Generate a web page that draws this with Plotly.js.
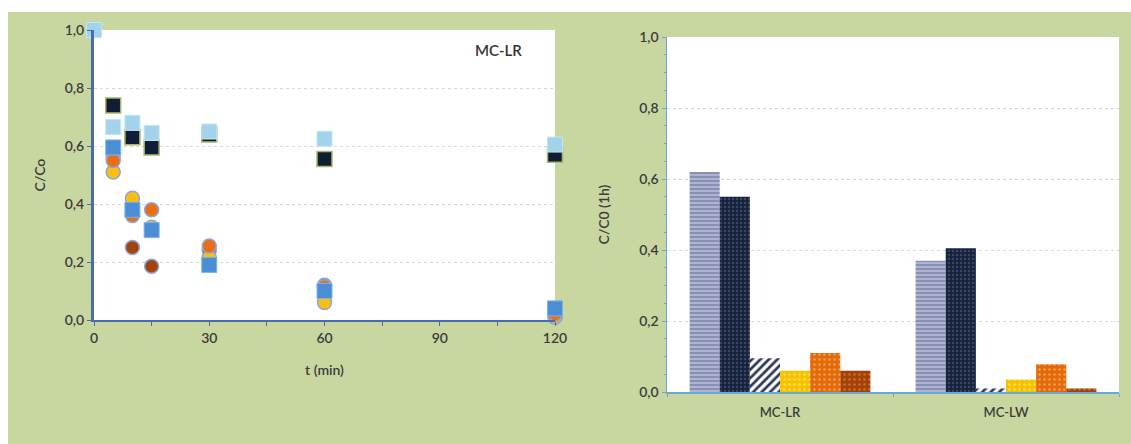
<!DOCTYPE html>
<html><head><meta charset="utf-8">
<script src="https://cdn.plot.ly/plotly-3.0.1.min.js"></script>
<style>html,body{margin:0;padding:0;background:#fff}#c{width:1131px;height:444px}</style>
</head><body><div id="c"></div>
<script>
// Left panel: C/Co vs time
const tLight = [0, 5, 10, 15, 30, 60, 120];
const vLight = [1.0, 0.665, 0.68, 0.645, 0.65, 0.625, 0.605];
const tNavy = [5, 10, 15, 30, 60, 120];
const vNavy = [0.74, 0.63, 0.595, 0.64, 0.555, 0.57];
const tBlue = [5, 10, 15, 30, 60, 120];
const vBlue = [0.595, 0.38, 0.31, 0.19, 0.10, 0.04];
const tOrange = [5, 10, 15, 30, 60, 120];
const vOrange = [0.55, 0.36, 0.38, 0.255, 0.115, 0.02];
const tYellow = [5, 10, 15, 30, 60, 120];
const vYellow = [0.51, 0.42, 0.32, 0.215, 0.06, 0.01];
const tBrown = [5, 10, 15, 30, 60, 120];
const vBrown = [0.56, 0.25, 0.185, 0.24, 0.12, 0.01];

// Right panel: C/C0 after 1 h
const cats = ['MC-LR', 'MC-LW'];
const bar1 = [0.62, 0.37];
const bar2 = [0.55, 0.405];
const bar3 = [0.095, 0.01];
const bar4 = [0.06, 0.035];
const bar5 = [0.11, 0.078];
const bar6 = [0.06, 0.01];

const xTicks = [0, 30, 60, 90, 120];
const yTicks = [0, 0.2, 0.4, 0.6, 0.8, 1.0];

const green = '#c8d6a0';
const circLine = {color: '#8ea6d6', width: 1.5};
const sc = (x, y, sym, col, line, size) => ({
  type: 'scatter', mode: 'markers', x: x, y: y, xaxis: 'x', yaxis: 'y',
  cliponaxis: false, showlegend: false, hoverinfo: 'x+y',
  marker: {symbol: sym, color: col, size: size, line: line}
});

const traces = [
  sc(tBrown, vBrown, 'circle', '#a3440c', circLine, 14),
  sc(tYellow, vYellow, 'circle', '#fbbf10', circLine, 14),
  sc(tOrange, vOrange, 'circle', '#ea6f14', circLine, 14),
  sc(tBlue, vBlue, 'square', '#4a8ed6', {color: '#7fb0e6', width: 1}, 15),
  sc(tNavy, vNavy, 'square', '#0f1d36', {color: '#a8b86a', width: 1.5}, 15),
  sc(tLight, vLight, 'square', '#a3d3ea', {color: '#c3e4f2', width: 1}, 15)
];

const bar = (y, bg, fg, shape, size, sol) => ({
  type: 'bar', x: cats, y: y, xaxis: 'x2', yaxis: 'y2', showlegend: false,
  marker: {color: bg, line: {width: 0},
    pattern: {shape: shape, bgcolor: bg, fgcolor: fg, size: size, solidity: sol, fillmode: 'replace'}}
});
traces.push(
  bar(bar1, '#8890b6', '#bfc4dc', '-', 4, 0.35),
  bar(bar2, '#16223b', '#3a4764', '.', 4, 0.3),
  bar(bar3, '#ffffff', '#2c3757', '/', 6, 0.45),
  bar(bar4, '#f6c200', '#ffdc55', '.', 5, 0.2),
  bar(bar5, '#e36a08', '#f59b50', '.', 5, 0.2),
  bar(bar6, '#a24206', '#c7702e', '.', 5, 0.2)
);

const fontF = 'Lato, "Open Sans", sans-serif';
const tickFont = {family: fontF, size: 14, color: '#3c3c3c', weight: 600};
const titleFont = {family: fontF, size: 14, color: '#3c3c3c', weight: 600};

const layout = {
  width: 1131, height: 444,
  margin: {l: 0, r: 0, t: 0, b: 0},
  paper_bgcolor: green,
  plot_bgcolor: '#ffffff',
  separators: ', ',
  bargap: 0.2, bargroupgap: 0,
  barmode: 'group',
  font: {family: fontF, color: '#404040'},
  xaxis: {
    domain: [94/1131, 555/1131], range: [0, 120], anchor: 'y',
    tickvals: xTicks, ticktext: xTicks.map(String), tickfont: tickFont,
    showline: true, linecolor: '#4a6cae', linewidth: 2, ticks: 'outside', ticklen: 4, tickcolor: '#4a6cae',
    minor: {dtick: 15, ticks: 'outside', ticklen: 4, tickcolor: '#4a6cae', showgrid: false},
    showgrid: false, zeroline: false, fixedrange: true,
    title: {text: 't (min)', font: titleFont, standoff: 20}
  },
  yaxis: {
    domain: [(444-320)/444, (444-30)/444], range: [0, 1], anchor: 'x',
    tickvals: yTicks, tickformat: '.1f', tickfont: tickFont,
    showline: true, linecolor: '#4a6cae', linewidth: 3, ticks: 'outside', ticklen: 4, tickcolor: '#4a6cae',
    showgrid: true, gridcolor: '#d4d8e0', griddash: 'dot', gridwidth: 1, zeroline: false, fixedrange: true,
    title: {text: 'C/Co', font: titleFont, standoff: 16}
  },
  xaxis2: {
    domain: [667/1131, 1119/1131], anchor: 'y2', type: 'category',
    tickfont: {family: fontF, size: 13, color: '#3c3c3c', weight: 600},
    showline: true, linecolor: '#6aa8dc', linewidth: 1.5, ticks: 'outside', tickson: 'boundaries',
    ticklen: 3, tickcolor: '#6aa8dc', ticklabelstandoff: 8,
    showgrid: false, zeroline: false, fixedrange: true
  },
  yaxis2: {
    domain: [(444-392)/444, (444-37)/444], range: [0, 1], anchor: 'x2',
    tickvals: yTicks, tickformat: '.1f', tickfont: tickFont,
    showline: true, linecolor: '#6aa8dc', linewidth: 1.5, ticks: 'outside', ticklen: 4, tickcolor: '#6aa8dc',
    minor: {dtick: 0.05, ticks: 'outside', ticklen: 2, tickcolor: '#6aa8dc', showgrid: false},
    showgrid: true, gridcolor: '#d4d8e0', griddash: 'dot', gridwidth: 1, zeroline: false, fixedrange: true,
    title: {text: 'C/C0 (1h)', font: titleFont, standoff: 26}
  },
  annotations: [
    {text: 'MC-LR', xref: 'x', yref: 'y', x: 112, y: 0.93, showarrow: false, xanchor: 'right',
     font: {family: fontF, size: 15, color: '#333333', weight: 600}}
  ],
  shapes: [
    {type: 'rect', xref: 'paper', yref: 'paper', x0: 0, x1: 1, y0: (444-12)/444, y1: 1,
     fillcolor: '#ffffff', line: {width: 0}, layer: 'below'},
    {type: 'rect', xref: 'paper', yref: 'paper', x0: 0, x1: 8/1131, y0: 0, y1: 1,
     fillcolor: '#ffffff', line: {width: 0}, layer: 'below'}
  ]
};

Plotly.newPlot('c', traces, layout, {staticPlot: true, displayModeBar: false});
</script></body></html>
